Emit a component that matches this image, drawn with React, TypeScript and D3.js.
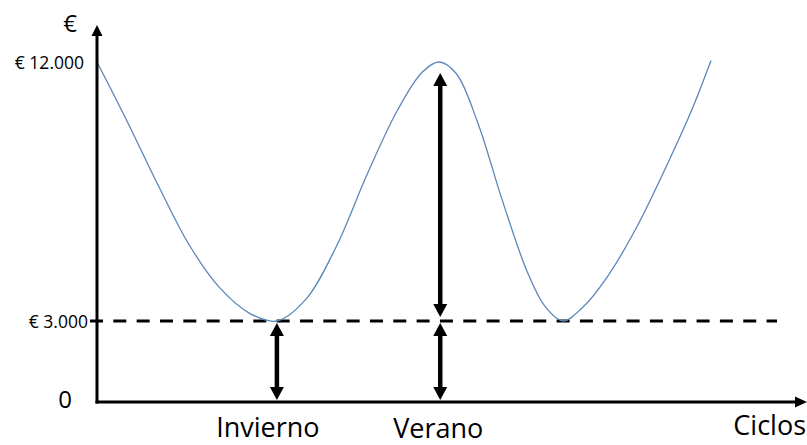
import React from "react";
import * as d3 from "d3";

// Curve samples: t (cycle position, 0..100) and value in euros
const cycleT = [0, 5, 10, 15, 20, 25, 29.3, 34, 39, 44, 49, 53, 55.7, 58.5, 62, 66, 70, 73, 75.9, 79, 83, 88, 93, 97, 100];
const cycleValue = [12000, 9900, 7700, 5650, 4150, 3250, 3000, 3750, 5600, 8100, 10350, 11650, 12000, 11600, 9900, 7200, 4750, 3500, 3000, 3450, 4500, 6300, 8500, 10400, 12050];

const yTickValues = [0, 3000, 12000];
const yTickLabels = ["0", "€ 3.000", "€ 12.000"];
const baseline = 3000;

const seasonLabels = ["Invierno", "Verano"];
const seasonT = [29.3, 55.9];
const seasonArrows = [
  [[0, 3000]],
  [[3000, 12000], [0, 3000]],
];

const yAxisTitle = "€";
const xAxisTitle = "Ciclos";

const W = 807;
const H = 445;
const x0 = 97;
const yZero = 402;

export default function App() {
  const x = d3.scaleLinear().domain([0, 100]).range([x0, 711]);
  const y = d3.scaleLinear().domain([0, 3000, 12000]).range([yZero, 321, 62]);

  const pts: [number, number][] = cycleT.map((t, i) => [t, cycleValue[i]]);
  const line = d3
    .line<[number, number]>()
    .x((d) => x(d[0]))
    .y((d) => y(d[1]))
    .curve(d3.curveCatmullRom.alpha(0.5));

  const font = "'Open Sans', sans-serif";

  const arrow = (xc: number, y1: number, y2: number, key: string) => {
    const hw = 7;
    const hh = 13;
    return (
      <g key={key}>
        <line x1={xc} x2={xc} y1={y1 + hh - 1} y2={y2 - hh + 1} stroke="#000" strokeWidth={4.5} />
        <path d={`M${xc},${y1} L${xc - hw},${y1 + hh} L${xc + hw},${y1 + hh} Z`} fill="#000" />
        <path d={`M${xc},${y2} L${xc - hw},${y2 - hh} L${xc + hw},${y2 - hh} Z`} fill="#000" />
      </g>
    );
  };

  const labelDx = [-9, -2];
  const labelBase = [437, 437.5];

  return (
    <svg width={W} height={H} style={{ position: "absolute", left: 0, top: 0, background: "#fff" }}>
      {/* dashed baseline */}
      <line
        x1={90}
        x2={777}
        y1={y(baseline)}
        y2={y(baseline)}
        stroke="#000"
        strokeWidth={3}
        strokeDasharray="13 10.33"
      />
      {/* curve */}
      <path d={line(pts) || ""} fill="none" stroke="#5b87b9" strokeWidth={1.3} />

      {/* y axis */}
      <line x1={x0} x2={x0} y1={yZero + 1.5} y2={34} stroke="#000" strokeWidth={3} />
      <path d={`M${x0},25 L${x0 - 5.5},36 L${x0 + 5.5},36 Z`} fill="#000" />
      {/* x axis */}
      <line x1={x0 - 1.5} x2={796} y1={yZero} y2={yZero} stroke="#000" strokeWidth={3} />
      <path d={`M807,${yZero} L795,${yZero - 5.5} L795,${yZero + 5.5} Z`} fill="#000" />

      {/* y tick labels */}
      {yTickValues.map((v, i) => {
        const isZero = v === 0;
        return (
          <text
            key={v}
            x={isZero ? 72 : v === 3000 ? 88 : 84}
            y={isZero ? y(v) - 4 : y(v)}
            textAnchor="end"
            dominantBaseline="central"
            fontFamily={font}
            fontSize={isZero ? 24 : 17.5}
            fill="#000"
          >
            {yTickLabels[i]}
          </text>
        );
      })}
      <text x={70} y={32} textAnchor="middle" fontFamily={font} fontSize={24} fill="#000">
        {yAxisTitle}
      </text>
      <text x={806} y={435} textAnchor="end" fontFamily={font} fontSize={27} fill="#000">
        {xAxisTitle}
      </text>

      {/* season arrows */}
      {seasonT.map((t, i) =>
        seasonArrows[i].map(([a, b], j) => {
          const top = y(b) + (b === 12000 ? 11 : 2);
          const bottom = y(a) - (a === 3000 ? 4 : 2);
          return arrow(x(t), top, bottom, `${i}-${j}`);
        })
      )}
      {seasonLabels.map((s, i) => (
        <text
          key={s}
          x={x(seasonT[i]) + labelDx[i]}
          y={labelBase[i]}
          textAnchor="middle"
          fontFamily={font}
          fontSize={27}
          fill="#000"
        >
          {s}
        </text>
      ))}
    </svg>
  );
}
